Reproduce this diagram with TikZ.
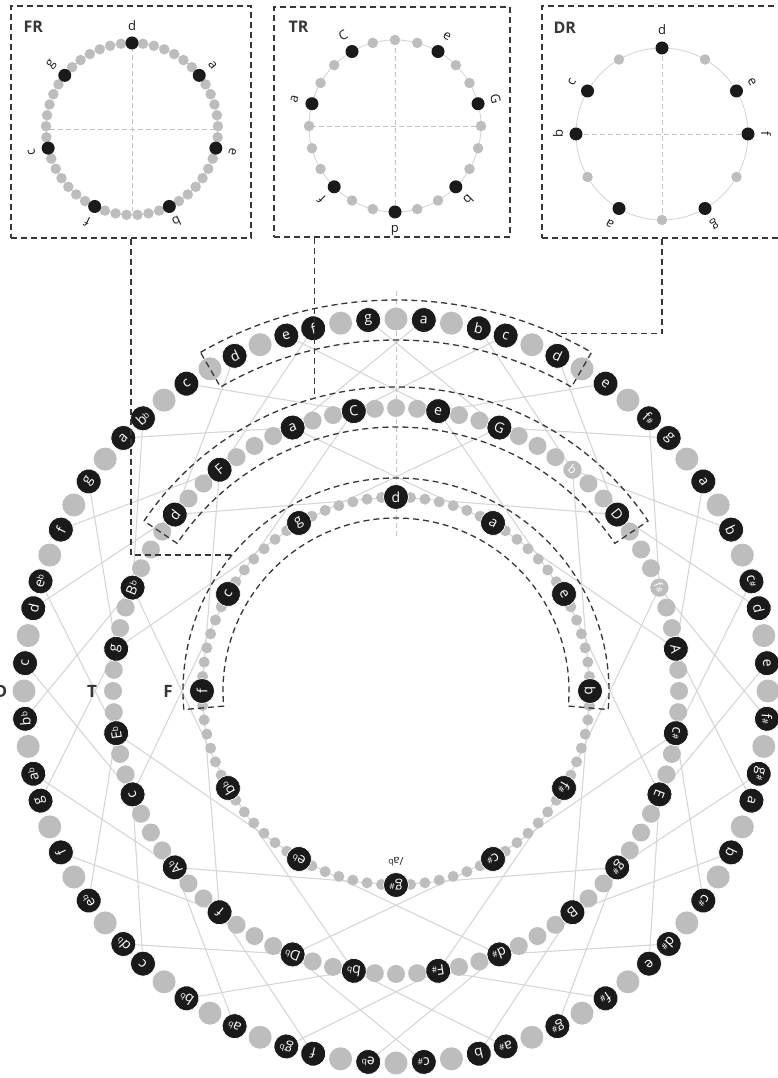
\documentclass[tikz,border=0pt]{standalone}
\usepackage{fontspec}
\setmainfont{Open Sans}
\usetikzlibrary{calc}
\definecolor{NoteBlack}{HTML}{1A1A1A}
\definecolor{DotGray}{HTML}{BDBDBD}
\definecolor{LinkGray}{HTML}{D6D6D6}
\definecolor{DashDark}{HTML}{363636}
\definecolor{AxisGray}{HTML}{C4C4C4}
\pgfdeclarelayer{bg}
\pgfsetlayers{bg,main}
\newcommand\shp{\raisebox{.1ex}{\fontsize{8.5}{8.5}\selectfont\#}}
\newcommand\flt{\raisebox{.35ex}{\fontsize{8.5}{8.5}\selectfont b}}
\newcommand\ringstep{4.2857143}
\newcommand\frstep{7.3469388}

\begin{document}
\begin{tikzpicture}[x=1pt,y=1pt,
    note/.style={circle,fill=NoteBlack,draw=white,line width=0.7pt,inner sep=0pt,
                 minimum size=25pt,text=white,font=\fontsize{14}{14}\selectfont},
    softnote/.style={note,fill=DotGray,draw=none,minimum size=18pt,font=\fontsize{12}{12}\selectfont},
    bigdot/.style={circle,fill=DotGray,inner sep=0pt,minimum size=23pt},
    middot/.style={circle,fill=DotGray,inner sep=0pt,minimum size=18pt},
    smalldot/.style={circle,fill=DotGray,inner sep=0pt,minimum size=11pt},
    insetdot/.style={circle,fill=DotGray,inner sep=0pt,minimum size=10.5pt},
    insetnote/.style={circle,fill=NoteBlack,inner sep=0pt,minimum size=13pt},
    insetlabel/.style={text=NoteBlack,font=\fontsize{13}{13}\selectfont},
    insetbox/.style={draw=DashDark,line width=1.3pt,dash pattern=on 6pt off 4pt},
    region/.style={draw=DashDark,line width=1.3pt,dash pattern=on 6pt off 4pt},
    axis/.style={draw=AxisGray,line width=0.8pt,dash pattern=on 5pt off 3pt},
    ringline/.style={draw=LinkGray,line width=0.9pt},
    link/.style={draw=LinkGray,line width=1.1pt},
    ringname/.style={text=DashDark,font=\bfseries\fontsize{17}{17}\selectfont},
    insettitle/.style={text=DashDark,anchor=west,font=\bfseries\fontsize{16}{16}\selectfont}
  ]
  \useasboundingbox (0,0) rectangle (778,1078);

  % main rings
  \begin{scope}[shift={(396,387)}]
    \draw[axis] (0,400) -- (0,152);

    % D ring
    \foreach \p in {0,...,83}
      \node[bigdot] (od-\p) at ({90-\p*\ringstep}:372) {};
    \foreach \p/\n in {1/a,3/b,4/c,6/d,8/e,10/f\shp,11/g,13/a,15/b,17/c\shp,18/d,20/e,
        22/f\shp,24/g\shp,25/a,27/b,29/c\shp,31/d\shp,32/e,34/f\shp,36/g\shp,38/a\shp,39/b,
        41/c\shp,43/e\flt,45/f,46/g\flt,48/a\flt,50/b\flt,52/c,53/d\flt,55/e\flt,57/f,59/g,
        60/a\flt,62/b\flt,64/c,66/d,67/e\flt,69/f,71/g,73/a,74/b\flt,76/c,78/d,80/e,81/f,83/g}
      \node[note,rotate={-\p*\ringstep}] (o-\p) at ({90-\p*\ringstep}:372) {\n};

    % T ring
    \foreach \p in {0,...,83}
      \node[middot] (td-\p) at ({90-\p*\ringstep}:283) {};
    \foreach \p/\n in {82/C,2/e,5/G,12/D,19/A,23/c\shp,26/E,30/g\shp,33/B,37/d\shp,
        40/F\shp,44/b\flt,47/D\flt,51/f,54/A\flt,58/c,61/E\flt,65/g,68/B\flt,72/d,75/F,79/a}
      \node[note,rotate={-\p*\ringstep}] (t-\p) at ({90-\p*\ringstep}:283) {\n};
    \foreach \p/\n in {9/b,16/f\shp}
      \node[softnote,rotate={-\p*\ringstep}] (t-\p) at ({90-\p*\ringstep}:283) {\n};

    % F ring
    \foreach \p in {0,...,83}
      \node[smalldot] (fd-\p) at ({90-\p*\ringstep}:194) {};
    \foreach \p/\n in {0/d,7/a,14/e,21/b,28/f\shp,35/c\shp,42/g\shp,49/e\flt,56/b\flt,63/f,70/c,77/g}
      \node[note,rotate={-\p*\ringstep}] (f-\p) at ({90-\p*\ringstep}:194) {\n};
    \node[text=NoteBlack,rotate=180,font=\fontsize{11}{11}\selectfont] (f-alt) at (270:171) {/a\flt};

    % links between the rings
    \begin{pgfonlayer}{bg}
      \foreach \p/\k in {82/-12,2/12,5/-12,9/12,12/-12,16/12,19/-12,23/12,26/-12,30/12,33/-12,37/12,
          40/-12,44/12,47/-12,51/12,54/-12,58/12,61/-12,65/12,68/-12,72/12,75/-12,79/12} {
        \pgfmathtruncatemacro\oa{mod(\p+6,84)}
        \pgfmathtruncatemacro\ob{mod(\p+78,84)}
        \pgfmathtruncatemacro\fq{mod(\p+\k+84,84)}
        \draw[link] (o-\oa.center) -- (t-\p.center) -- (o-\ob.center);
        \draw[link] (t-\p.center) -- (f-\fq.center);
      }
    \end{pgfonlayer}

    % selected regions
    \draw[region] (120:391) arc[start angle=120,end angle=60,radius=391]
      -- (60:351) arc[start angle=60,end angle=120,radius=351] -- cycle;
    \draw[region] (146:304) arc[start angle=146,end angle=34,radius=304]
      -- (34:264) arc[start angle=34,end angle=146,radius=264] -- cycle;
    \draw[region] (185:213) arc[start angle=185,end angle=-5,radius=213]
      -- (-5:173) arc[start angle=-5,end angle=185,radius=173] -- cycle;
    \coordinate (dlink) at (66:391);
    \coordinate (tlink) at (105.5:304);
    \coordinate (flink) at (140.3:213);

    \node[ringname] (Dname) at (-395,0) {D};
    \node[ringname] (Tname) at (-304,0) {T};
    \node[ringname] (Fname) at (-228,0) {F};
  \end{scope}

  % insets
  \node[insetbox,minimum width=240pt,minimum height=232pt] (FRbox) at (131,956) {};
  \node[insetbox,minimum width=236pt,minimum height=230pt] (TRbox) at (392,956) {};
  \node[insetbox,minimum width=240pt,minimum height=232pt] (DRbox) at (662,956) {};
  \node[insettitle] (FRtitle) at (20,1051) {FR};
  \node[insettitle] (TRtitle) at (285,1051) {TR};
  \node[insettitle] (DRtitle) at (550,1050) {DR};

  \draw[region] (FRbox.south) |- (flink);
  \draw[region] (TRbox.south -| tlink) -- (tlink);
  \draw[region] (DRbox.south) |- (dlink);

  \begin{scope}[shift={(132,949)}]
    \draw[ringline] (0,0) circle[radius=86];
    \draw[axis] (0,82) -- (0,-82);
    \draw[axis] (-82,0) -- (82,0);
    \foreach \p in {0,...,48}
      \node[insetdot] (frd-\p) at ({90-\p*\frstep}:86) {};
    \foreach \p/\n in {0/d,7/a,14/e,21/b,28/f,35/c,42/g} {
      \node[insetnote] (fr-\p) at ({90-\p*\frstep}:86) {};
      \node[insetlabel,rotate={-\p*\frstep}] (frl-\p) at ({90-\p*\frstep}:103) {\n};
    }
  \end{scope}

  \begin{scope}[shift={(395,952)}]
    \draw[ringline] (0,0) circle[radius=86];
    \draw[axis] (0,86) -- (0,-86);
    \draw[axis] (-84,0) -- (84,0);
    \foreach \p in {0,...,23}
      \node[insetdot] (trd-\p) at ({90-\p*15}:86) {};
    \foreach \p/\n in {2/e,5/G,9/b,12/d,15/f,19/a,22/C} {
      \node[insetnote] (tr-\p) at ({90-\p*15}:86) {};
      \node[insetlabel,rotate={-\p*15}] (trl-\p) at ({90-\p*15}:104) {\n};
    }
  \end{scope}

  \begin{scope}[shift={(662,944)}]
    \draw[ringline] (0,0) circle[radius=86];
    \draw[axis] (0,86) -- (0,-86);
    \draw[axis] (-86,0) -- (86,0);
    \foreach \p in {0,...,11}
      \node[insetdot] (drd-\p) at ({90-\p*30}:86) {};
    \foreach \p/\n in {0/d,2/e,3/f,5/g,7/a,9/b,10/c} {
      \node[insetnote] (dr-\p) at ({90-\p*30}:86) {};
      \node[insetlabel,rotate={-\p*30}] (drl-\p) at ({90-\p*30}:104) {\n};
    }
  \end{scope}
\end{tikzpicture}
\end{document}
